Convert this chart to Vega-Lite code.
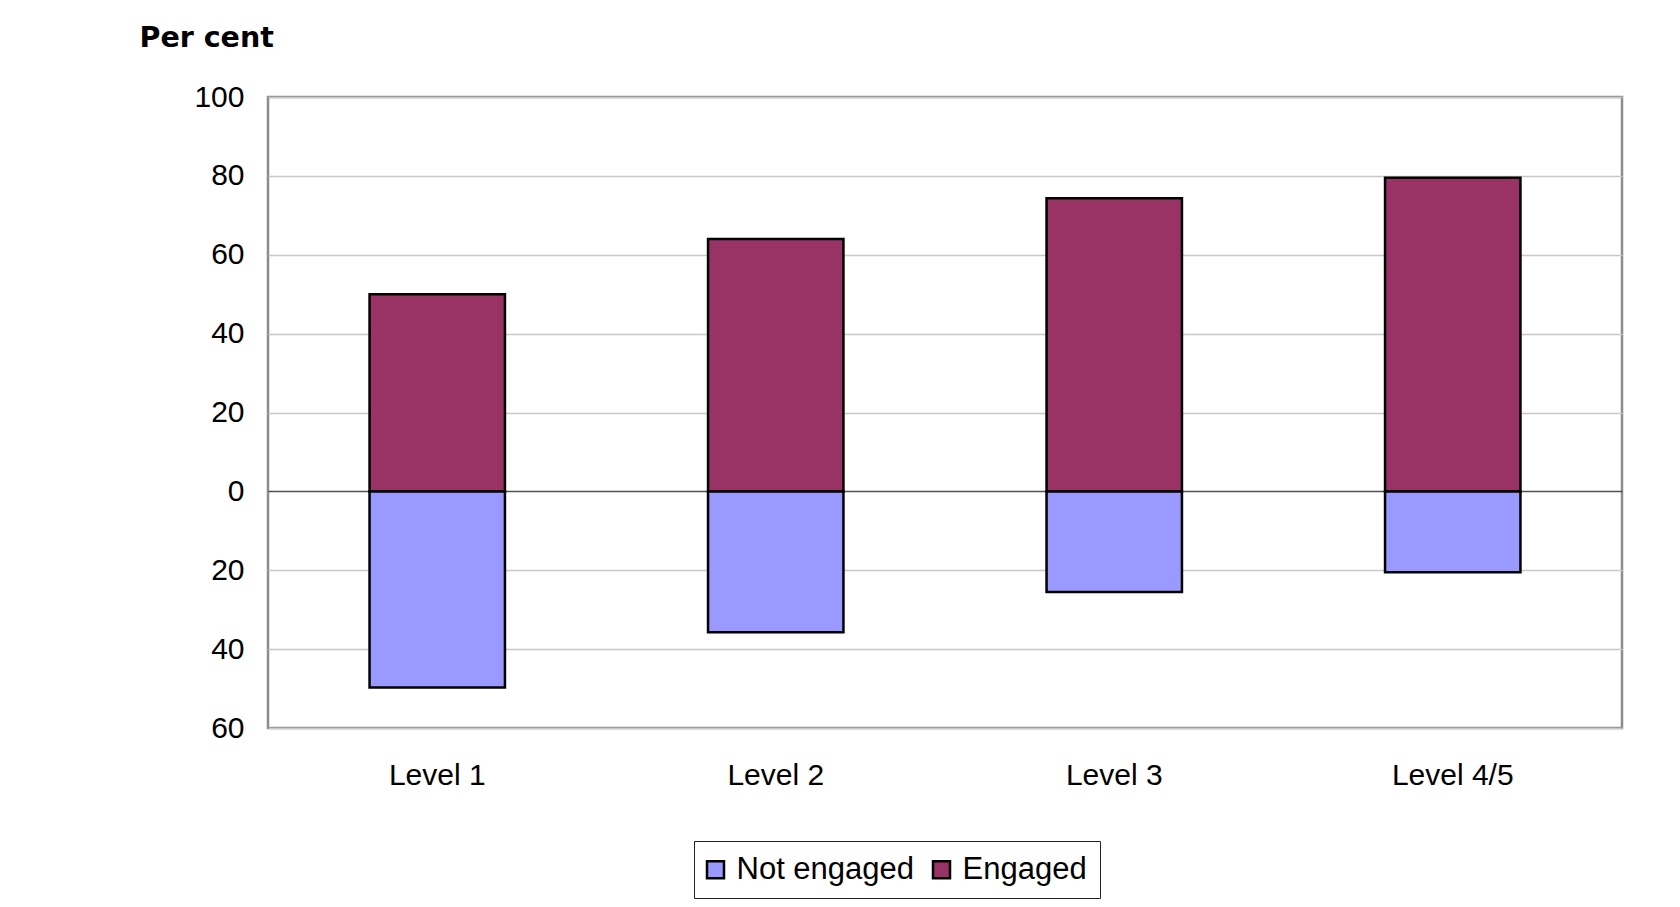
{
  "$schema": "https://vega.github.io/schema/vega-lite/v6.json",
  "autosize": {"type": "none"},
  "padding": {"left": 268, "top": 97, "right": 58, "bottom": 179},
  "width": 1354,
  "height": 631,
  "background": "white",
  "config": {
    "font": "Liberation Sans",
    "view": {"stroke": "#8c8c8c", "strokeWidth": 2.5}
  },
  "data": {
    "values": [
      {"level": "Level 1", "status": "Engaged", "value": 50},
      {"level": "Level 1", "status": "Not engaged", "value": -49.7},
      {"level": "Level 2", "status": "Engaged", "value": 64},
      {"level": "Level 2", "status": "Not engaged", "value": -35.7},
      {"level": "Level 3", "status": "Engaged", "value": 74.3},
      {"level": "Level 3", "status": "Not engaged", "value": -25.5},
      {"level": "Level 4/5", "status": "Engaged", "value": 79.5},
      {"level": "Level 4/5", "status": "Not engaged", "value": -20.5}
    ]
  },
  "mark": {"type": "bar", "stroke": "black", "strokeWidth": 2.5},
  "encoding": {
    "x": {
      "field": "level",
      "type": "nominal",
      "sort": null,
      "scale": {"paddingInner": 0.6, "paddingOuter": 0.3},
      "axis": {
        "title": null,
        "labelAngle": 0,
        "labelFontSize": 30,
        "labelColor": "black",
        "labelBaseline": "middle",
        "labelPadding": 47,
        "ticks": false,
        "domain": false,
        "grid": false
      }
    },
    "y": {
      "field": "value",
      "type": "quantitative",
      "stack": null,
      "scale": {"domain": [-60, 100], "nice": false},
      "axis": {
        "values": [-60, -40, -20, 0, 20, 40, 60, 80, 100],
        "labelExpr": "'' + abs(datum.value)",
        "labelFontSize": 30,
        "labelColor": "black",
        "labelPadding": 24,
        "ticks": false,
        "domain": false,
        "grid": true,
        "gridColor": {"condition": {"test": "datum.value === 0", "value": "#505050"}, "value": "#c8c8c8"},
        "gridWidth": 1.3,
        "title": "Per cent",
        "titleAngle": 0,
        "titleX": -129,
        "titleY": -60,
        "titleAlign": "left",
        "titleBaseline": "middle",
        "titleFont": "DejaVu Sans",
        "titleFontSize": 28.5,
        "titleFontWeight": "bold",
        "titleColor": "black"
      }
    },
    "color": {
      "field": "status",
      "type": "nominal",
      "scale": {"domain": ["Not engaged", "Engaged"], "range": ["#9999FF", "#993366"]},
      "legend": {
        "title": null,
        "orient": "none",
        "direction": "horizontal",
        "legendX": 426,
        "legendY": 744,
        "strokeColor": "#222222",
        "padding": 13,
        "symbolType": "square",
        "symbolSize": 289,
        "symbolStrokeColor": "black",
        "symbolStrokeWidth": 2.5,
        "symbolOpacity": 1,
        "symbolOffset": -7,
        "labelFontSize": 31,
        "labelColor": "black",
        "labelOffset": 5.5,
        "labelLimit": 0,
        "columnPadding": 13
      }
    }
  }
}
